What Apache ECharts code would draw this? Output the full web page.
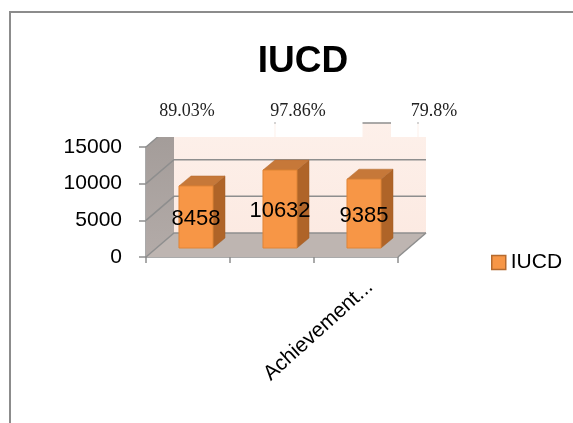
<!DOCTYPE html>
<html>
<head>
<meta charset="utf-8">
<script src="https://cdn.jsdelivr.net/npm/echarts@6/dist/echarts.min.js"></script>
<style>
  html, body { margin: 0; padding: 0; background: #fff; }
  #chart { width: 573px; height: 423px; }
</style>
</head>
<body>
<div id="chart"></div>
<script>
// data
var categories = ['', '', 'Achievement...'];
var values = [8458, 10632, 9385];
var percents = ['89.03%', '97.86%', '79.8%'];
var seriesName = 'IUCD';
var yMin = 0, yMax = 15000, yStep = 5000;

// fake 3D depth offsets (px)
var WALL = [28, -24];
var BAR_SHIFT = [8, -9];
var BAR_DEPTH = [12, -10];

var chart = echarts.init(document.getElementById('chart'));

function renderWalls(params, api) {
  var cs = params.coordSys;
  var x0 = cs.x, x1 = cs.x + cs.width, yt = cs.y, yb = cs.y + cs.height;
  var dx = WALL[0], dy = WALL[1];
  var kids = [
    { type: 'rect', shape: { x: x0 + dx, y: yt + dy, width: x1 - x0, height: yb - yt },
      style: { fill: new echarts.graphic.LinearGradient(0, 0, 0, 1, [
        { offset: 0, color: '#FDF0EA' }, { offset: 1, color: '#FCEAE2' }]) } },
    { type: 'polygon', shape: { points: [[x0, yb], [x0 + dx, yb + dy], [x0 + dx, yt + dy], [x0, yt]] },
      style: { fill: new echarts.graphic.LinearGradient(0, 0, 0, 1, [
        { offset: 0, color: '#A29B98' }, { offset: 1, color: '#B3ABA8' }]) } },
    { type: 'polygon', shape: { points: [[x0, yb], [x1, yb], [x1 + dx, yb + dy], [x0 + dx, yb + dy]] },
      style: { fill: '#BEB5B1' } },
    { type: 'polyline', shape: { points: [[x1, yb], [x1 + dx, yb + dy]] },
      style: { stroke: '#8E8E8E', lineWidth: 1.5, fill: null } }
  ];
  for (var v = yMin; v <= yMax; v += yStep) {
    var y = api.coord([0, v])[1];
    kids.push({ type: 'polyline',
      shape: { points: [[x0, y], [x0 + dx, y + dy], [x1 + dx, y + dy]] },
      style: { stroke: '#8E8E8E', lineWidth: 1.5, fill: null } });
  }
  return { type: 'group', children: kids };
}

function renderBar(params, api) {
  var idx = api.value(0), val = api.value(1);
  var top = api.coord([idx, val]);
  var base = api.coord([idx, 0]);
  var bw = api.size([1, 0])[0] * 0.405;
  var x0 = top[0] - bw / 2 + BAR_SHIFT[0], x1 = x0 + bw;
  var yt = top[1] + BAR_SHIFT[1], yb = base[1] + BAR_SHIFT[1];
  var dx = BAR_DEPTH[0], dy = BAR_DEPTH[1];
  return {
    type: 'group',
    children: [
      { type: 'polygon', shape: { points: [[x1, yb], [x1 + dx, yb + dy], [x1 + dx, yt + dy], [x1, yt]] },
        style: { fill: '#AF6428', stroke: '#A25C24', lineWidth: 0.5 } },
      { type: 'polygon', shape: { points: [[x0, yt], [x0 + dx, yt + dy], [x1 + dx, yt + dy], [x1, yt]] },
        style: { fill: '#C67839', stroke: '#B46C32', lineWidth: 0.5 } },
      { type: 'rect', shape: { x: x0, y: yt, width: bw, height: yb - yt },
        style: { fill: '#F79646', stroke: '#E08536', lineWidth: 1 } },
      { type: 'text', x: (x0 + x1) / 2, y: (yt + yb) / 2 + 2,
        style: { text: String(val), fill: '#000', font: '22px "Liberation Sans"',
          align: 'center', verticalAlign: 'middle' } }
    ]
  };
}

// percentage text boxes (white boxes hide top of walls like in the original)
var pctX = [187, 298, 434];
var graphics = [
  { type: 'polyline', shape: { points: [[10, 423], [10, 12], [573, 12]] },
    style: { stroke: '#8C8C8C', lineWidth: 2, fill: null }, z: 20 },
  { type: 'rect', shape: { x: 140, y: 95, width: 134.5, height: 42 }, style: { fill: '#fff' }, z: 10 },
  { type: 'rect', shape: { x: 275.5, y: 95, width: 87, height: 42 }, style: { fill: '#fff' }, z: 10 },
  { type: 'rect', shape: { x: 391, y: 95, width: 26.5, height: 42 }, style: { fill: '#fff' }, z: 10 },
  { type: 'rect', shape: { x: 418.5, y: 95, width: 50, height: 42 }, style: { fill: '#fff' }, z: 10 }
];
percents.forEach(function (p, i) {
  graphics.push({ type: 'text', x: pctX[i], y: 111, z: 11,
    style: { text: p, fill: '#222', font: '18px "Liberation Serif"',
      align: 'center', verticalAlign: 'middle' } });
});

chart.setOption({
  animation: false,
  title: {
    text: 'IUCD', left: 298, top: 38, textAlign: 'center',
    textStyle: { fontFamily: 'Liberation Sans', fontSize: 37, fontWeight: 'bold', color: '#000' }
  },
  legend: {
    data: [{ name: seriesName, icon: 'rect' }],
    left: 486, top: 247, itemWidth: 14, itemHeight: 14,
    itemStyle: { color: '#F79646', borderColor: '#B56A2E', borderWidth: 1.5 },
    textStyle: { fontFamily: 'Liberation Sans', fontSize: 21, color: '#000' },
    itemGap: 4
  },
  grid: [
    { left: 146, right: 175, top: 147, bottom: 166 },
    { left: 160, right: 161, top: 147, bottom: 166 }
  ],
  xAxis: [
    { type: 'category', data: categories, gridIndex: 0,
      axisLine: { lineStyle: { color: '#8E8E8E', width: 1.5 } },
      axisTick: { show: true, interval: 0, length: 6, lineStyle: { color: '#8E8E8E', width: 1.5 } },
      axisLabel: { show: false } },
    { type: 'category', data: categories, gridIndex: 1,
      axisLine: { show: false }, axisTick: { show: false },
      axisLabel: { interval: 0, rotate: 42, margin: 27, color: '#000',
        fontFamily: 'Liberation Sans', fontSize: 21 } }
  ],
  yAxis: [
    { type: 'value', min: yMin, max: yMax, interval: yStep, gridIndex: 0,
      axisLine: { show: true, lineStyle: { color: '#8E8E8E', width: 1.5 } },
      axisTick: { show: true, length: 7, lineStyle: { color: '#8E8E8E', width: 1.5 } },
      splitLine: { show: false },
      axisLabel: { margin: 24, color: '#000', fontFamily: 'Liberation Sans', fontSize: 21,
        formatter: function (v) { return String(v); } } },
    { type: 'value', min: yMin, max: yMax, gridIndex: 1, show: false }
  ],
  graphic: graphics,
  series: [
    { type: 'custom', xAxisIndex: 0, yAxisIndex: 0, z: 1, silent: true,
      renderItem: renderWalls, data: [[0, 0]] },
    { type: 'custom', name: seriesName, xAxisIndex: 0, yAxisIndex: 0, z: 3,
      itemStyle: { color: '#F79646' },
      renderItem: renderBar, encode: { x: 0, y: 1 },
      data: values.map(function (v, i) { return [i, v]; }) }
  ]
});
</script>
</body>
</html>
